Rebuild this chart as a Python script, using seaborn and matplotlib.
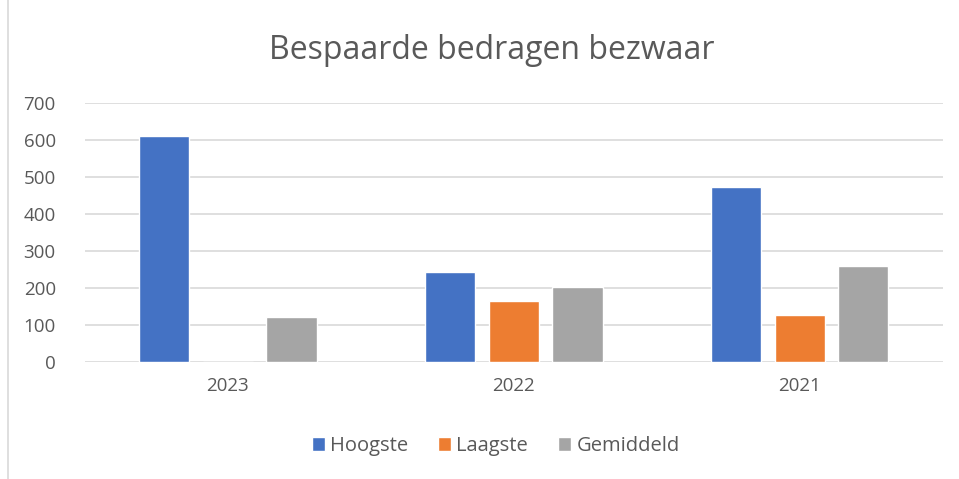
import numpy as np
import pandas as pd
import matplotlib
matplotlib.use("Agg")
import matplotlib.pyplot as plt
import seaborn as sns

# data
years = ["2023", "2022", "2021"]
hoogste = [612, 243, 473]
laagste = [0, 165, 126]
gemiddeld = [122, 203, 259]

series = ["Hoogste", "Laagste", "Gemiddeld"]
colors = ["#4472C4", "#ED7D31", "#A5A5A5"]

df = pd.DataFrame({"Jaar": years, "Hoogste": hoogste,
                   "Laagste": laagste, "Gemiddeld": gemiddeld})
long_df = df.melt(id_vars="Jaar", var_name="Reeks", value_name="Bedrag")

sns.set_style("white")
plt.rcParams['font.family'] = ['Open Sans', 'DejaVu Sans']
text_col = "#595959"

fig = plt.figure(figsize=(9.59, 4.79), dpi=100)
ax = fig.add_axes([0.0886, 0.2443, 0.8944, 0.5397])

sns.barplot(data=long_df, x="Jaar", y="Bedrag", hue="Reeks",
            hue_order=series, palette=colors, width=0.667, gap=0.21,
            saturation=1, errorbar=None, ax=ax, zorder=3)

ax.set_ylim(0, 700)
ax.set_yticks(range(0, 701, 100))
ax.set_xlim(-0.5, 2.5)
ax.grid(axis="y", color="#D9D9D9", linewidth=1.2, zorder=0)
ax.set_axisbelow(True)
for s in ax.spines.values():
    s.set_visible(False)
ax.tick_params(axis="both", length=0, labelsize=13.5, labelcolor=text_col)
ax.tick_params(axis="y", pad=21)
ax.tick_params(axis="x", pad=11)
ax.set_xlabel("")
ax.set_ylabel("")

fig.text(0.513, 0.895, "Bespaarde bedragen bezwaar", ha="center", va="center",
         fontsize=23, color=text_col)

handles, labels = ax.get_legend_handles_labels()
ax.legend(handles, labels, loc="center", bbox_to_anchor=(0.517, 0.069),
          bbox_transform=fig.transFigure, ncol=3, frameon=False,
          fontsize=14.5, labelcolor=text_col, handlelength=0.65,
          handleheight=0.65, handletextpad=0.25, columnspacing=1.5)

# chart frame edge on the left
fig.add_artist(plt.Line2D([0.0083, 0.0083], [0, 1], transform=fig.transFigure,
                          color="#D9D9D9", linewidth=1.2))

fig.savefig("out.png", dpi=100)
